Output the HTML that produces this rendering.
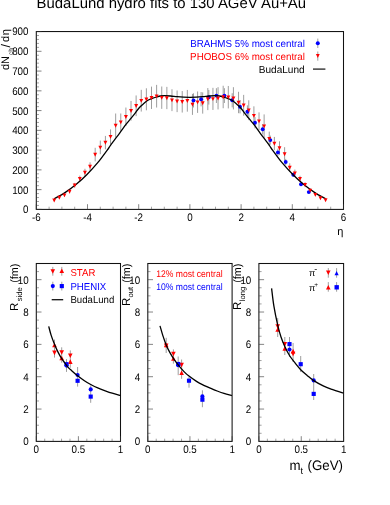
<!DOCTYPE html>
<html><head><meta charset="utf-8"><title>BudaLund hydro fits</title>
<style>
html,body{margin:0;padding:0;background:#fff;}
body{width:390px;height:505px;overflow:hidden;font-family:"Liberation Sans",sans-serif;}
svg{display:block;text-rendering:geometricPrecision;}
</style></head><body>
<svg width="390" height="505" viewBox="0 0 390 505">
<defs><filter id="f" x="0" y="0" width="390" height="505" filterUnits="userSpaceOnUse"><feOffset dx="0" dy="0"/></filter></defs>
<rect x="0" y="0" width="390" height="505" fill="#fff"/>
<g filter="url(#f)">
<rect x="36.3" y="31.55" width="307.2" height="177.85" fill="none" stroke="#111" stroke-width="1.05"/>
<line x1="36.30" y1="209.40" x2="41.50" y2="209.40" stroke="#333" stroke-width="0.6"/>
<line x1="36.30" y1="205.45" x2="39.00" y2="205.45" stroke="#333" stroke-width="0.45"/>
<line x1="36.30" y1="201.50" x2="39.00" y2="201.50" stroke="#333" stroke-width="0.45"/>
<line x1="36.30" y1="197.54" x2="39.00" y2="197.54" stroke="#333" stroke-width="0.45"/>
<line x1="36.30" y1="193.59" x2="39.00" y2="193.59" stroke="#333" stroke-width="0.45"/>
<line x1="36.30" y1="189.64" x2="41.50" y2="189.64" stroke="#333" stroke-width="0.6"/>
<line x1="36.30" y1="185.69" x2="39.00" y2="185.69" stroke="#333" stroke-width="0.45"/>
<line x1="36.30" y1="181.73" x2="39.00" y2="181.73" stroke="#333" stroke-width="0.45"/>
<line x1="36.30" y1="177.78" x2="39.00" y2="177.78" stroke="#333" stroke-width="0.45"/>
<line x1="36.30" y1="173.83" x2="39.00" y2="173.83" stroke="#333" stroke-width="0.45"/>
<line x1="36.30" y1="169.88" x2="41.50" y2="169.88" stroke="#333" stroke-width="0.6"/>
<line x1="36.30" y1="165.93" x2="39.00" y2="165.93" stroke="#333" stroke-width="0.45"/>
<line x1="36.30" y1="161.97" x2="39.00" y2="161.97" stroke="#333" stroke-width="0.45"/>
<line x1="36.30" y1="158.02" x2="39.00" y2="158.02" stroke="#333" stroke-width="0.45"/>
<line x1="36.30" y1="154.07" x2="39.00" y2="154.07" stroke="#333" stroke-width="0.45"/>
<line x1="36.30" y1="150.12" x2="41.50" y2="150.12" stroke="#333" stroke-width="0.6"/>
<line x1="36.30" y1="146.16" x2="39.00" y2="146.16" stroke="#333" stroke-width="0.45"/>
<line x1="36.30" y1="142.21" x2="39.00" y2="142.21" stroke="#333" stroke-width="0.45"/>
<line x1="36.30" y1="138.26" x2="39.00" y2="138.26" stroke="#333" stroke-width="0.45"/>
<line x1="36.30" y1="134.31" x2="39.00" y2="134.31" stroke="#333" stroke-width="0.45"/>
<line x1="36.30" y1="130.36" x2="41.50" y2="130.36" stroke="#333" stroke-width="0.6"/>
<line x1="36.30" y1="126.40" x2="39.00" y2="126.40" stroke="#333" stroke-width="0.45"/>
<line x1="36.30" y1="122.45" x2="39.00" y2="122.45" stroke="#333" stroke-width="0.45"/>
<line x1="36.30" y1="118.50" x2="39.00" y2="118.50" stroke="#333" stroke-width="0.45"/>
<line x1="36.30" y1="114.55" x2="39.00" y2="114.55" stroke="#333" stroke-width="0.45"/>
<line x1="36.30" y1="110.59" x2="41.50" y2="110.59" stroke="#333" stroke-width="0.6"/>
<line x1="36.30" y1="106.64" x2="39.00" y2="106.64" stroke="#333" stroke-width="0.45"/>
<line x1="36.30" y1="102.69" x2="39.00" y2="102.69" stroke="#333" stroke-width="0.45"/>
<line x1="36.30" y1="98.74" x2="39.00" y2="98.74" stroke="#333" stroke-width="0.45"/>
<line x1="36.30" y1="94.79" x2="39.00" y2="94.79" stroke="#333" stroke-width="0.45"/>
<line x1="36.30" y1="90.83" x2="41.50" y2="90.83" stroke="#333" stroke-width="0.6"/>
<line x1="36.30" y1="86.88" x2="39.00" y2="86.88" stroke="#333" stroke-width="0.45"/>
<line x1="36.30" y1="82.93" x2="39.00" y2="82.93" stroke="#333" stroke-width="0.45"/>
<line x1="36.30" y1="78.98" x2="39.00" y2="78.98" stroke="#333" stroke-width="0.45"/>
<line x1="36.30" y1="75.02" x2="39.00" y2="75.02" stroke="#333" stroke-width="0.45"/>
<line x1="36.30" y1="71.07" x2="41.50" y2="71.07" stroke="#333" stroke-width="0.6"/>
<line x1="36.30" y1="67.12" x2="39.00" y2="67.12" stroke="#333" stroke-width="0.45"/>
<line x1="36.30" y1="63.17" x2="39.00" y2="63.17" stroke="#333" stroke-width="0.45"/>
<line x1="36.30" y1="59.22" x2="39.00" y2="59.22" stroke="#333" stroke-width="0.45"/>
<line x1="36.30" y1="55.26" x2="39.00" y2="55.26" stroke="#333" stroke-width="0.45"/>
<line x1="36.30" y1="51.31" x2="41.50" y2="51.31" stroke="#333" stroke-width="0.6"/>
<line x1="36.30" y1="47.36" x2="39.00" y2="47.36" stroke="#333" stroke-width="0.45"/>
<line x1="36.30" y1="43.41" x2="39.00" y2="43.41" stroke="#333" stroke-width="0.45"/>
<line x1="36.30" y1="39.45" x2="39.00" y2="39.45" stroke="#333" stroke-width="0.45"/>
<line x1="36.30" y1="35.50" x2="39.00" y2="35.50" stroke="#333" stroke-width="0.45"/>
<line x1="36.30" y1="31.55" x2="41.50" y2="31.55" stroke="#333" stroke-width="0.6"/>
<line x1="36.30" y1="209.40" x2="36.30" y2="204.20" stroke="#333" stroke-width="0.6"/>
<line x1="49.10" y1="209.40" x2="49.10" y2="206.70" stroke="#333" stroke-width="0.45"/>
<line x1="61.90" y1="209.40" x2="61.90" y2="206.70" stroke="#333" stroke-width="0.45"/>
<line x1="74.70" y1="209.40" x2="74.70" y2="206.70" stroke="#333" stroke-width="0.45"/>
<line x1="87.50" y1="209.40" x2="87.50" y2="204.20" stroke="#333" stroke-width="0.6"/>
<line x1="100.30" y1="209.40" x2="100.30" y2="206.70" stroke="#333" stroke-width="0.45"/>
<line x1="113.10" y1="209.40" x2="113.10" y2="206.70" stroke="#333" stroke-width="0.45"/>
<line x1="125.90" y1="209.40" x2="125.90" y2="206.70" stroke="#333" stroke-width="0.45"/>
<line x1="138.70" y1="209.40" x2="138.70" y2="204.20" stroke="#333" stroke-width="0.6"/>
<line x1="151.50" y1="209.40" x2="151.50" y2="206.70" stroke="#333" stroke-width="0.45"/>
<line x1="164.30" y1="209.40" x2="164.30" y2="206.70" stroke="#333" stroke-width="0.45"/>
<line x1="177.10" y1="209.40" x2="177.10" y2="206.70" stroke="#333" stroke-width="0.45"/>
<line x1="189.90" y1="209.40" x2="189.90" y2="204.20" stroke="#333" stroke-width="0.6"/>
<line x1="202.70" y1="209.40" x2="202.70" y2="206.70" stroke="#333" stroke-width="0.45"/>
<line x1="215.50" y1="209.40" x2="215.50" y2="206.70" stroke="#333" stroke-width="0.45"/>
<line x1="228.30" y1="209.40" x2="228.30" y2="206.70" stroke="#333" stroke-width="0.45"/>
<line x1="241.10" y1="209.40" x2="241.10" y2="204.20" stroke="#333" stroke-width="0.6"/>
<line x1="253.90" y1="209.40" x2="253.90" y2="206.70" stroke="#333" stroke-width="0.45"/>
<line x1="266.70" y1="209.40" x2="266.70" y2="206.70" stroke="#333" stroke-width="0.45"/>
<line x1="279.50" y1="209.40" x2="279.50" y2="206.70" stroke="#333" stroke-width="0.45"/>
<line x1="292.30" y1="209.40" x2="292.30" y2="204.20" stroke="#333" stroke-width="0.6"/>
<line x1="305.10" y1="209.40" x2="305.10" y2="206.70" stroke="#333" stroke-width="0.45"/>
<line x1="317.90" y1="209.40" x2="317.90" y2="206.70" stroke="#333" stroke-width="0.45"/>
<line x1="330.70" y1="209.40" x2="330.70" y2="206.70" stroke="#333" stroke-width="0.45"/>
<line x1="343.50" y1="209.40" x2="343.50" y2="204.20" stroke="#333" stroke-width="0.6"/>
<text transform="translate(28.50,213.33) scale(1,1.12)" text-anchor="end" font-size="9.8" font-family="Liberation Sans, sans-serif" fill="#000">0</text>
<text transform="translate(28.50,193.57) scale(1,1.12)" text-anchor="end" font-size="9.8" font-family="Liberation Sans, sans-serif" fill="#000">100</text>
<text transform="translate(28.50,173.81) scale(1,1.12)" text-anchor="end" font-size="9.8" font-family="Liberation Sans, sans-serif" fill="#000">200</text>
<text transform="translate(28.50,154.05) scale(1,1.12)" text-anchor="end" font-size="9.8" font-family="Liberation Sans, sans-serif" fill="#000">300</text>
<text transform="translate(28.50,134.28) scale(1,1.12)" text-anchor="end" font-size="9.8" font-family="Liberation Sans, sans-serif" fill="#000">400</text>
<text transform="translate(28.50,114.52) scale(1,1.12)" text-anchor="end" font-size="9.8" font-family="Liberation Sans, sans-serif" fill="#000">500</text>
<text transform="translate(28.50,94.76) scale(1,1.12)" text-anchor="end" font-size="9.8" font-family="Liberation Sans, sans-serif" fill="#000">600</text>
<text transform="translate(28.50,75.00) scale(1,1.12)" text-anchor="end" font-size="9.8" font-family="Liberation Sans, sans-serif" fill="#000">700</text>
<text transform="translate(28.50,55.24) scale(1,1.12)" text-anchor="end" font-size="9.8" font-family="Liberation Sans, sans-serif" fill="#000">800</text>
<text transform="translate(28.50,35.48) scale(1,1.12)" text-anchor="end" font-size="9.8" font-family="Liberation Sans, sans-serif" fill="#000">900</text>
<text transform="translate(36.30,220.70) scale(1,1.12)" text-anchor="middle" font-size="9.8" font-family="Liberation Sans, sans-serif" fill="#000">-6</text>
<text transform="translate(87.50,220.70) scale(1,1.12)" text-anchor="middle" font-size="9.8" font-family="Liberation Sans, sans-serif" fill="#000">-4</text>
<text transform="translate(138.70,220.70) scale(1,1.12)" text-anchor="middle" font-size="9.8" font-family="Liberation Sans, sans-serif" fill="#000">-2</text>
<text transform="translate(189.90,220.70) scale(1,1.12)" text-anchor="middle" font-size="9.8" font-family="Liberation Sans, sans-serif" fill="#000">0</text>
<text transform="translate(241.10,220.70) scale(1,1.12)" text-anchor="middle" font-size="9.8" font-family="Liberation Sans, sans-serif" fill="#000">2</text>
<text transform="translate(292.30,220.70) scale(1,1.12)" text-anchor="middle" font-size="9.8" font-family="Liberation Sans, sans-serif" fill="#000">4</text>
<text transform="translate(343.50,220.70) scale(1,1.12)" text-anchor="middle" font-size="9.8" font-family="Liberation Sans, sans-serif" fill="#000">6</text>
<text transform="translate(337.20,235.20) scale(1,1.0)" text-anchor="start" font-size="11" font-family="Liberation Sans, sans-serif" fill="#000">η</text>
<text transform="translate(36.60,7.80) scale(1,1.0)" text-anchor="start" font-size="14.9" font-family="Liberation Sans, sans-serif" fill="#000">BudaLund hydro fits to 130 AGeV Au+Au</text>
<text transform="translate(9.40,70.00) rotate(-90) scale(1,1)" text-anchor="start" font-size="11" font-family="Liberation Sans, sans-serif" fill="#000">dN</text>
<text transform="translate(12.90,54.90) rotate(-90) scale(1,1)" text-anchor="start" font-size="6.5" font-family="Liberation Sans, sans-serif" fill="#000">ch</text>
<text transform="translate(9.90,47.50) rotate(-90) scale(1,1)" text-anchor="start" font-size="12.5" font-family="Liberation Sans, sans-serif" fill="#000">/</text>
<text transform="translate(9.40,42.10) rotate(-90) scale(1,1)" text-anchor="start" font-size="11" font-family="Liberation Sans, sans-serif" fill="#000">d</text>
<text transform="translate(9.40,35.20) rotate(-90) scale(1,1)" text-anchor="start" font-size="11" font-family="Liberation Sans, sans-serif" fill="#000">η</text>
<line x1="54.22" y1="199.39" x2="54.22" y2="201.21" stroke="#8c8c8c" stroke-width="0.85"/>
<line x1="59.34" y1="196.42" x2="59.34" y2="198.78" stroke="#8c8c8c" stroke-width="0.85"/>
<line x1="64.46" y1="193.78" x2="64.46" y2="196.62" stroke="#8c8c8c" stroke-width="0.85"/>
<line x1="69.58" y1="189.71" x2="69.58" y2="193.29" stroke="#8c8c8c" stroke-width="0.85"/>
<line x1="74.70" y1="182.89" x2="74.70" y2="187.71" stroke="#8c8c8c" stroke-width="0.85"/>
<line x1="79.82" y1="175.63" x2="79.82" y2="181.77" stroke="#8c8c8c" stroke-width="0.85"/>
<line x1="84.94" y1="168.81" x2="84.94" y2="176.19" stroke="#8c8c8c" stroke-width="0.85"/>
<line x1="90.06" y1="162.32" x2="90.06" y2="170.88" stroke="#8c8c8c" stroke-width="0.85"/>
<line x1="95.18" y1="147.80" x2="95.18" y2="161.40" stroke="#8c8c8c" stroke-width="0.85"/>
<line x1="100.30" y1="140.60" x2="100.30" y2="154.20" stroke="#8c8c8c" stroke-width="0.85"/>
<line x1="105.42" y1="135.92" x2="105.42" y2="149.28" stroke="#8c8c8c" stroke-width="0.85"/>
<line x1="110.54" y1="129.43" x2="110.54" y2="143.97" stroke="#8c8c8c" stroke-width="0.85"/>
<line x1="115.66" y1="113.50" x2="115.66" y2="137.50" stroke="#8c8c8c" stroke-width="0.85"/>
<line x1="120.78" y1="113.48" x2="120.78" y2="130.92" stroke="#8c8c8c" stroke-width="0.85"/>
<line x1="125.90" y1="107.54" x2="125.90" y2="126.06" stroke="#8c8c8c" stroke-width="0.85"/>
<line x1="131.02" y1="100.94" x2="131.02" y2="120.66" stroke="#8c8c8c" stroke-width="0.85"/>
<line x1="136.14" y1="95.44" x2="136.14" y2="116.16" stroke="#8c8c8c" stroke-width="0.85"/>
<line x1="141.26" y1="89.83" x2="141.26" y2="111.57" stroke="#8c8c8c" stroke-width="0.85"/>
<line x1="146.38" y1="88.29" x2="146.38" y2="110.31" stroke="#8c8c8c" stroke-width="0.85"/>
<line x1="151.50" y1="86.64" x2="151.50" y2="108.96" stroke="#8c8c8c" stroke-width="0.85"/>
<line x1="156.62" y1="84.88" x2="156.62" y2="107.52" stroke="#8c8c8c" stroke-width="0.85"/>
<line x1="161.74" y1="86.53" x2="161.74" y2="108.87" stroke="#8c8c8c" stroke-width="0.85"/>
<line x1="166.86" y1="86.86" x2="166.86" y2="109.14" stroke="#8c8c8c" stroke-width="0.85"/>
<line x1="171.98" y1="89.28" x2="171.98" y2="111.12" stroke="#8c8c8c" stroke-width="0.85"/>
<line x1="177.10" y1="90.49" x2="177.10" y2="112.11" stroke="#8c8c8c" stroke-width="0.85"/>
<line x1="182.22" y1="91.04" x2="182.22" y2="112.56" stroke="#8c8c8c" stroke-width="0.85"/>
<line x1="187.34" y1="89.94" x2="187.34" y2="111.66" stroke="#8c8c8c" stroke-width="0.85"/>
<line x1="192.46" y1="93.90" x2="192.46" y2="114.90" stroke="#8c8c8c" stroke-width="0.85"/>
<line x1="197.58" y1="91.48" x2="197.58" y2="112.92" stroke="#8c8c8c" stroke-width="0.85"/>
<line x1="202.70" y1="92.36" x2="202.70" y2="113.64" stroke="#8c8c8c" stroke-width="0.85"/>
<line x1="207.82" y1="88.07" x2="207.82" y2="110.13" stroke="#8c8c8c" stroke-width="0.85"/>
<line x1="212.94" y1="87.85" x2="212.94" y2="109.95" stroke="#8c8c8c" stroke-width="0.85"/>
<line x1="218.06" y1="87.19" x2="218.06" y2="109.41" stroke="#8c8c8c" stroke-width="0.85"/>
<line x1="223.18" y1="85.76" x2="223.18" y2="108.24" stroke="#8c8c8c" stroke-width="0.85"/>
<line x1="228.30" y1="85.98" x2="228.30" y2="108.42" stroke="#8c8c8c" stroke-width="0.85"/>
<line x1="233.42" y1="87.19" x2="233.42" y2="109.41" stroke="#8c8c8c" stroke-width="0.85"/>
<line x1="238.54" y1="91.81" x2="238.54" y2="113.19" stroke="#8c8c8c" stroke-width="0.85"/>
<line x1="243.66" y1="94.89" x2="243.66" y2="115.71" stroke="#8c8c8c" stroke-width="0.85"/>
<line x1="248.78" y1="100.28" x2="248.78" y2="120.12" stroke="#8c8c8c" stroke-width="0.85"/>
<line x1="253.90" y1="106.33" x2="253.90" y2="125.07" stroke="#8c8c8c" stroke-width="0.85"/>
<line x1="259.02" y1="112.38" x2="259.02" y2="130.02" stroke="#8c8c8c" stroke-width="0.85"/>
<line x1="264.14" y1="114.40" x2="264.14" y2="138.00" stroke="#8c8c8c" stroke-width="0.85"/>
<line x1="269.26" y1="131.63" x2="269.26" y2="145.77" stroke="#8c8c8c" stroke-width="0.85"/>
<line x1="274.38" y1="136.91" x2="274.38" y2="150.09" stroke="#8c8c8c" stroke-width="0.85"/>
<line x1="279.50" y1="141.30" x2="279.50" y2="154.90" stroke="#8c8c8c" stroke-width="0.85"/>
<line x1="284.62" y1="147.20" x2="284.62" y2="160.80" stroke="#8c8c8c" stroke-width="0.85"/>
<line x1="289.74" y1="163.31" x2="289.74" y2="171.69" stroke="#8c8c8c" stroke-width="0.85"/>
<line x1="294.86" y1="169.58" x2="294.86" y2="176.82" stroke="#8c8c8c" stroke-width="0.85"/>
<line x1="299.98" y1="175.74" x2="299.98" y2="181.86" stroke="#8c8c8c" stroke-width="0.85"/>
<line x1="305.10" y1="182.23" x2="305.10" y2="187.17" stroke="#8c8c8c" stroke-width="0.85"/>
<line x1="310.22" y1="188.50" x2="310.22" y2="192.30" stroke="#8c8c8c" stroke-width="0.85"/>
<line x1="315.34" y1="193.23" x2="315.34" y2="196.17" stroke="#8c8c8c" stroke-width="0.85"/>
<line x1="320.46" y1="196.86" x2="320.46" y2="199.14" stroke="#8c8c8c" stroke-width="0.85"/>
<line x1="325.58" y1="199.06" x2="325.58" y2="200.94" stroke="#8c8c8c" stroke-width="0.85"/>
<line x1="193.50" y1="93.32" x2="193.50" y2="107.48" stroke="#8c8c8c" stroke-width="0.85"/>
<line x1="201.10" y1="92.04" x2="201.10" y2="106.36" stroke="#8c8c8c" stroke-width="0.85"/>
<line x1="208.80" y1="90.01" x2="208.80" y2="104.59" stroke="#8c8c8c" stroke-width="0.85"/>
<line x1="216.40" y1="88.20" x2="216.40" y2="103.00" stroke="#8c8c8c" stroke-width="0.85"/>
<line x1="224.40" y1="88.20" x2="224.40" y2="103.00" stroke="#8c8c8c" stroke-width="0.85"/>
<line x1="232.20" y1="93.21" x2="232.20" y2="107.39" stroke="#8c8c8c" stroke-width="0.85"/>
<line x1="240.00" y1="100.02" x2="240.00" y2="113.38" stroke="#8c8c8c" stroke-width="0.85"/>
<line x1="247.40" y1="105.35" x2="247.40" y2="118.05" stroke="#8c8c8c" stroke-width="0.85"/>
<line x1="255.00" y1="117.06" x2="255.00" y2="128.34" stroke="#8c8c8c" stroke-width="0.85"/>
<line x1="262.70" y1="124.09" x2="262.70" y2="134.51" stroke="#8c8c8c" stroke-width="0.85"/>
<line x1="270.30" y1="135.60" x2="270.30" y2="144.60" stroke="#8c8c8c" stroke-width="0.85"/>
<line x1="277.90" y1="148.69" x2="277.90" y2="156.11" stroke="#8c8c8c" stroke-width="0.85"/>
<line x1="285.70" y1="158.92" x2="285.70" y2="165.08" stroke="#8c8c8c" stroke-width="0.85"/>
<line x1="293.30" y1="172.44" x2="293.30" y2="176.96" stroke="#8c8c8c" stroke-width="0.85"/>
<line x1="301.00" y1="182.67" x2="301.00" y2="185.93" stroke="#8c8c8c" stroke-width="0.85"/>
<line x1="308.80" y1="190.98" x2="308.80" y2="193.22" stroke="#8c8c8c" stroke-width="0.85"/>
<circle cx="193.50" cy="100.40" r="1.95" fill="#0000ff"/>
<circle cx="201.10" cy="99.20" r="1.95" fill="#0000ff"/>
<circle cx="208.80" cy="97.30" r="1.95" fill="#0000ff"/>
<circle cx="216.40" cy="95.60" r="1.95" fill="#0000ff"/>
<circle cx="224.40" cy="95.60" r="1.95" fill="#0000ff"/>
<circle cx="232.20" cy="100.30" r="1.95" fill="#0000ff"/>
<circle cx="240.00" cy="106.70" r="1.95" fill="#0000ff"/>
<circle cx="247.40" cy="111.70" r="1.95" fill="#0000ff"/>
<circle cx="255.00" cy="122.70" r="1.95" fill="#0000ff"/>
<circle cx="262.70" cy="129.30" r="1.95" fill="#0000ff"/>
<circle cx="270.30" cy="140.10" r="1.95" fill="#0000ff"/>
<circle cx="277.90" cy="152.40" r="1.95" fill="#0000ff"/>
<circle cx="285.70" cy="162.00" r="1.95" fill="#0000ff"/>
<circle cx="293.30" cy="174.70" r="1.95" fill="#0000ff"/>
<circle cx="301.00" cy="184.30" r="1.95" fill="#0000ff"/>
<circle cx="308.80" cy="192.10" r="1.95" fill="#0000ff"/>
<path d="M54.22 198.80C56.01 197.77 61.35 194.98 64.97 192.60C68.60 190.22 72.35 187.48 75.98 184.50C79.61 181.52 83.11 178.33 86.73 174.70C90.36 171.07 94.07 167.15 97.74 162.70C101.41 158.25 106.49 151.08 108.75 148.00C111.01 144.92 109.52 146.65 111.31 144.20C113.10 141.75 117.03 136.63 119.50 133.30C121.97 129.97 124.36 126.55 126.16 124.20C127.95 121.85 128.84 120.93 130.25 119.20C131.66 117.47 133.07 115.75 134.60 113.80C136.14 111.85 137.93 109.22 139.47 107.50C141.00 105.78 142.41 104.70 143.82 103.50C145.23 102.30 146.51 101.15 147.92 100.30C149.32 99.45 150.82 98.95 152.27 98.40C153.72 97.85 155.25 97.40 156.62 97.00C157.99 96.60 159.18 96.23 160.46 96.00C161.74 95.77 162.59 95.60 164.30 95.60C166.01 95.60 168.57 95.82 170.70 96.00C172.83 96.18 174.97 96.51 177.10 96.70C179.23 96.89 181.37 97.05 183.50 97.15C185.63 97.25 187.77 97.30 189.90 97.30C192.03 97.30 194.17 97.25 196.30 97.15C198.43 97.05 200.57 96.89 202.70 96.70C204.83 96.51 206.97 96.18 209.10 96.00C211.23 95.82 213.79 95.60 215.50 95.60C217.21 95.60 218.06 95.77 219.34 96.00C220.62 96.23 221.81 96.60 223.18 97.00C224.55 97.40 226.08 97.85 227.53 98.40C228.98 98.95 230.48 99.45 231.88 100.30C233.29 101.15 234.57 102.30 235.98 103.50C237.39 104.70 238.80 105.78 240.33 107.50C241.87 109.22 243.66 111.85 245.20 113.80C246.73 115.75 248.14 117.47 249.55 119.20C250.96 120.93 251.85 121.85 253.64 124.20C255.44 126.55 257.83 129.97 260.30 133.30C262.77 136.63 266.70 141.75 268.49 144.20C270.28 146.65 268.79 144.92 271.05 148.00C273.31 151.08 278.39 158.25 282.06 162.70C285.73 167.15 289.44 171.07 293.07 174.70C296.69 178.33 300.19 181.52 303.82 184.50C307.45 187.48 311.20 190.22 314.83 192.60C318.45 194.98 323.79 197.77 325.58 198.80" fill="none" stroke="#000" stroke-width="1.3"/>
<path d="M52.27 198.55L56.17 198.55L54.22 202.45Z" fill="#ff0000"/>
<path d="M57.39 195.84L61.29 195.84L59.34 199.75Z" fill="#ff0000"/>
<path d="M62.51 193.44L66.41 193.44L64.46 197.34Z" fill="#ff0000"/>
<path d="M67.63 189.75L71.53 189.75L69.58 193.65Z" fill="#ff0000"/>
<path d="M72.75 183.55L76.65 183.55L74.70 187.45Z" fill="#ff0000"/>
<path d="M77.87 176.94L81.77 176.94L79.82 180.84Z" fill="#ff0000"/>
<path d="M82.99 170.75L86.89 170.75L84.94 174.65Z" fill="#ff0000"/>
<path d="M88.11 164.84L92.01 164.84L90.06 168.75Z" fill="#ff0000"/>
<path d="M93.23 152.84L97.13 152.84L95.18 156.75Z" fill="#ff0000"/>
<path d="M98.35 145.65L102.25 145.65L100.30 149.55Z" fill="#ff0000"/>
<path d="M103.47 140.84L107.37 140.84L105.42 144.75Z" fill="#ff0000"/>
<path d="M108.59 134.94L112.49 134.94L110.54 138.84Z" fill="#ff0000"/>
<path d="M113.71 123.75L117.61 123.75L115.66 127.64Z" fill="#ff0000"/>
<path d="M118.83 120.45L122.73 120.45L120.78 124.34Z" fill="#ff0000"/>
<path d="M123.95 115.05L127.85 115.05L125.90 118.94Z" fill="#ff0000"/>
<path d="M129.07 109.05L132.97 109.05L131.02 112.94Z" fill="#ff0000"/>
<path d="M134.19 104.05L138.09 104.05L136.14 107.94Z" fill="#ff0000"/>
<path d="M139.31 98.95L143.21 98.95L141.26 102.84Z" fill="#ff0000"/>
<path d="M144.43 97.55L148.33 97.55L146.38 101.44Z" fill="#ff0000"/>
<path d="M149.55 96.05L153.45 96.05L151.50 99.94Z" fill="#ff0000"/>
<path d="M154.67 94.45L158.57 94.45L156.62 98.34Z" fill="#ff0000"/>
<path d="M159.79 95.95L163.69 95.95L161.74 99.84Z" fill="#ff0000"/>
<path d="M164.91 96.25L168.81 96.25L166.86 100.14Z" fill="#ff0000"/>
<path d="M170.03 98.45L173.93 98.45L171.98 102.34Z" fill="#ff0000"/>
<path d="M175.15 99.55L179.05 99.55L177.10 103.44Z" fill="#ff0000"/>
<path d="M180.27 100.05L184.17 100.05L182.22 103.94Z" fill="#ff0000"/>
<path d="M185.39 99.05L189.29 99.05L187.34 102.94Z" fill="#ff0000"/>
<path d="M190.51 102.65L194.41 102.65L192.46 106.55Z" fill="#ff0000"/>
<path d="M195.63 100.45L199.53 100.45L197.58 104.34Z" fill="#ff0000"/>
<path d="M200.75 101.25L204.65 101.25L202.70 105.14Z" fill="#ff0000"/>
<path d="M205.87 97.34L209.77 97.34L207.82 101.24Z" fill="#ff0000"/>
<path d="M210.99 97.15L214.89 97.15L212.94 101.05Z" fill="#ff0000"/>
<path d="M216.11 96.55L220.01 96.55L218.06 100.44Z" fill="#ff0000"/>
<path d="M221.23 95.25L225.13 95.25L223.18 99.14Z" fill="#ff0000"/>
<path d="M226.35 95.45L230.25 95.45L228.30 99.34Z" fill="#ff0000"/>
<path d="M231.47 96.55L235.37 96.55L233.42 100.44Z" fill="#ff0000"/>
<path d="M236.59 100.75L240.49 100.75L238.54 104.64Z" fill="#ff0000"/>
<path d="M241.71 103.55L245.61 103.55L243.66 107.44Z" fill="#ff0000"/>
<path d="M246.83 108.45L250.73 108.45L248.78 112.34Z" fill="#ff0000"/>
<path d="M251.95 113.95L255.85 113.95L253.90 117.84Z" fill="#ff0000"/>
<path d="M257.07 119.45L260.97 119.45L259.02 123.34Z" fill="#ff0000"/>
<path d="M262.19 124.45L266.09 124.45L264.14 128.34Z" fill="#ff0000"/>
<path d="M267.31 136.94L271.21 136.94L269.26 140.84Z" fill="#ff0000"/>
<path d="M272.43 141.75L276.33 141.75L274.38 145.65Z" fill="#ff0000"/>
<path d="M277.55 146.34L281.45 146.34L279.50 150.25Z" fill="#ff0000"/>
<path d="M282.67 152.25L286.57 152.25L284.62 156.15Z" fill="#ff0000"/>
<path d="M287.79 165.75L291.69 165.75L289.74 169.65Z" fill="#ff0000"/>
<path d="M292.91 171.44L296.81 171.44L294.86 175.34Z" fill="#ff0000"/>
<path d="M298.03 177.05L301.93 177.05L299.98 180.95Z" fill="#ff0000"/>
<path d="M303.15 182.94L307.05 182.94L305.10 186.84Z" fill="#ff0000"/>
<path d="M308.27 188.65L312.17 188.65L310.22 192.55Z" fill="#ff0000"/>
<path d="M313.39 192.94L317.29 192.94L315.34 196.84Z" fill="#ff0000"/>
<path d="M318.51 196.25L322.41 196.25L320.46 200.15Z" fill="#ff0000"/>
<path d="M323.63 198.25L327.53 198.25L325.58 202.15Z" fill="#ff0000"/>
<text transform="translate(305.00,47.20) scale(1,1.04)" text-anchor="end" font-size="9.8" font-family="Liberation Sans, sans-serif" fill="#0000ff">BRAHMS 5% most central</text>
<text transform="translate(305.00,60.20) scale(1,1.04)" text-anchor="end" font-size="9.8" font-family="Liberation Sans, sans-serif" fill="#ff0000">PHOBOS 6% most central</text>
<text transform="translate(304.60,72.70) scale(1,1.02)" text-anchor="end" font-size="10.05" font-family="Liberation Sans, sans-serif" fill="#000">BudaLund</text>
<line x1="317.80" y1="38.60" x2="317.80" y2="48.00" stroke="#8c8c8c" stroke-width="0.85"/>
<circle cx="317.80" cy="43.30" r="2.00" fill="#0000ff"/>
<line x1="317.80" y1="51.50" x2="317.80" y2="60.70" stroke="#8c8c8c" stroke-width="0.85"/>
<path d="M315.90 54.09L319.70 54.09L317.80 57.89Z" fill="#ff0000"/>
<line x1="313" y1="69.1" x2="325.4" y2="69.1" stroke="#222" stroke-width="1.3"/>
<rect x="36.3" y="263.5" width="84.2" height="177.89999999999998" fill="none" stroke="#111" stroke-width="1.05"/>
<line x1="36.30" y1="441.40" x2="41.50" y2="441.40" stroke="#333" stroke-width="0.6"/>
<line x1="36.30" y1="433.31" x2="39.00" y2="433.31" stroke="#333" stroke-width="0.45"/>
<line x1="36.30" y1="425.23" x2="39.00" y2="425.23" stroke="#333" stroke-width="0.45"/>
<line x1="36.30" y1="417.14" x2="39.00" y2="417.14" stroke="#333" stroke-width="0.45"/>
<line x1="36.30" y1="409.05" x2="41.50" y2="409.05" stroke="#333" stroke-width="0.6"/>
<line x1="36.30" y1="400.97" x2="39.00" y2="400.97" stroke="#333" stroke-width="0.45"/>
<line x1="36.30" y1="392.88" x2="39.00" y2="392.88" stroke="#333" stroke-width="0.45"/>
<line x1="36.30" y1="384.80" x2="39.00" y2="384.80" stroke="#333" stroke-width="0.45"/>
<line x1="36.30" y1="376.71" x2="41.50" y2="376.71" stroke="#333" stroke-width="0.6"/>
<line x1="36.30" y1="368.62" x2="39.00" y2="368.62" stroke="#333" stroke-width="0.45"/>
<line x1="36.30" y1="360.54" x2="39.00" y2="360.54" stroke="#333" stroke-width="0.45"/>
<line x1="36.30" y1="352.45" x2="39.00" y2="352.45" stroke="#333" stroke-width="0.45"/>
<line x1="36.30" y1="344.36" x2="41.50" y2="344.36" stroke="#333" stroke-width="0.6"/>
<line x1="36.30" y1="336.28" x2="39.00" y2="336.28" stroke="#333" stroke-width="0.45"/>
<line x1="36.30" y1="328.19" x2="39.00" y2="328.19" stroke="#333" stroke-width="0.45"/>
<line x1="36.30" y1="320.10" x2="39.00" y2="320.10" stroke="#333" stroke-width="0.45"/>
<line x1="36.30" y1="312.02" x2="41.50" y2="312.02" stroke="#333" stroke-width="0.6"/>
<line x1="36.30" y1="303.93" x2="39.00" y2="303.93" stroke="#333" stroke-width="0.45"/>
<line x1="36.30" y1="295.85" x2="39.00" y2="295.85" stroke="#333" stroke-width="0.45"/>
<line x1="36.30" y1="287.76" x2="39.00" y2="287.76" stroke="#333" stroke-width="0.45"/>
<line x1="36.30" y1="279.67" x2="41.50" y2="279.67" stroke="#333" stroke-width="0.6"/>
<line x1="36.30" y1="271.59" x2="39.00" y2="271.59" stroke="#333" stroke-width="0.45"/>
<line x1="36.30" y1="441.40" x2="36.30" y2="436.20" stroke="#333" stroke-width="0.6"/>
<line x1="44.72" y1="441.40" x2="44.72" y2="438.70" stroke="#333" stroke-width="0.45"/>
<line x1="53.14" y1="441.40" x2="53.14" y2="438.70" stroke="#333" stroke-width="0.45"/>
<line x1="61.56" y1="441.40" x2="61.56" y2="438.70" stroke="#333" stroke-width="0.45"/>
<line x1="69.98" y1="441.40" x2="69.98" y2="438.70" stroke="#333" stroke-width="0.45"/>
<line x1="78.40" y1="441.40" x2="78.40" y2="436.20" stroke="#333" stroke-width="0.6"/>
<line x1="86.82" y1="441.40" x2="86.82" y2="438.70" stroke="#333" stroke-width="0.45"/>
<line x1="95.24" y1="441.40" x2="95.24" y2="438.70" stroke="#333" stroke-width="0.45"/>
<line x1="103.66" y1="441.40" x2="103.66" y2="438.70" stroke="#333" stroke-width="0.45"/>
<line x1="112.08" y1="441.40" x2="112.08" y2="438.70" stroke="#333" stroke-width="0.45"/>
<line x1="120.50" y1="441.40" x2="120.50" y2="436.20" stroke="#333" stroke-width="0.6"/>
<text transform="translate(28.70,445.33) scale(1,1.12)" text-anchor="end" font-size="9.8" font-family="Liberation Sans, sans-serif" fill="#000">0</text>
<text transform="translate(28.70,412.98) scale(1,1.12)" text-anchor="end" font-size="9.8" font-family="Liberation Sans, sans-serif" fill="#000">2</text>
<text transform="translate(28.70,380.64) scale(1,1.12)" text-anchor="end" font-size="9.8" font-family="Liberation Sans, sans-serif" fill="#000">4</text>
<text transform="translate(28.70,348.29) scale(1,1.12)" text-anchor="end" font-size="9.8" font-family="Liberation Sans, sans-serif" fill="#000">6</text>
<text transform="translate(28.70,315.95) scale(1,1.12)" text-anchor="end" font-size="9.8" font-family="Liberation Sans, sans-serif" fill="#000">8</text>
<text transform="translate(28.70,283.60) scale(1,1.12)" text-anchor="end" font-size="9.8" font-family="Liberation Sans, sans-serif" fill="#000">10</text>
<text transform="translate(36.30,452.90) scale(1,1.12)" text-anchor="middle" font-size="9.8" font-family="Liberation Sans, sans-serif" fill="#000">0</text>
<text transform="translate(78.40,452.90) scale(1,1.12)" text-anchor="middle" font-size="9.8" font-family="Liberation Sans, sans-serif" fill="#000">0.5</text>
<text transform="translate(120.50,452.90) scale(1,1.12)" text-anchor="middle" font-size="9.8" font-family="Liberation Sans, sans-serif" fill="#000">1</text>
<text transform="translate(18.00,311.00) rotate(-90) scale(1,1)" text-anchor="start" font-size="11.5" font-family="Liberation Sans, sans-serif" fill="#000">R</text>
<text transform="translate(21.90,301.30) rotate(-90) scale(1,1)" text-anchor="start" font-size="7.7" font-family="Liberation Sans, sans-serif" fill="#000">side</text>
<text transform="translate(18.00,282.80) rotate(-90) scale(1,1)" text-anchor="start" font-size="10.8" font-family="Liberation Sans, sans-serif" fill="#000">(fm)</text>
<rect x="147.8" y="263.5" width="84.29999999999998" height="177.89999999999998" fill="none" stroke="#111" stroke-width="1.05"/>
<line x1="147.80" y1="441.40" x2="153.00" y2="441.40" stroke="#333" stroke-width="0.6"/>
<line x1="147.80" y1="433.31" x2="150.50" y2="433.31" stroke="#333" stroke-width="0.45"/>
<line x1="147.80" y1="425.23" x2="150.50" y2="425.23" stroke="#333" stroke-width="0.45"/>
<line x1="147.80" y1="417.14" x2="150.50" y2="417.14" stroke="#333" stroke-width="0.45"/>
<line x1="147.80" y1="409.05" x2="153.00" y2="409.05" stroke="#333" stroke-width="0.6"/>
<line x1="147.80" y1="400.97" x2="150.50" y2="400.97" stroke="#333" stroke-width="0.45"/>
<line x1="147.80" y1="392.88" x2="150.50" y2="392.88" stroke="#333" stroke-width="0.45"/>
<line x1="147.80" y1="384.80" x2="150.50" y2="384.80" stroke="#333" stroke-width="0.45"/>
<line x1="147.80" y1="376.71" x2="153.00" y2="376.71" stroke="#333" stroke-width="0.6"/>
<line x1="147.80" y1="368.62" x2="150.50" y2="368.62" stroke="#333" stroke-width="0.45"/>
<line x1="147.80" y1="360.54" x2="150.50" y2="360.54" stroke="#333" stroke-width="0.45"/>
<line x1="147.80" y1="352.45" x2="150.50" y2="352.45" stroke="#333" stroke-width="0.45"/>
<line x1="147.80" y1="344.36" x2="153.00" y2="344.36" stroke="#333" stroke-width="0.6"/>
<line x1="147.80" y1="336.28" x2="150.50" y2="336.28" stroke="#333" stroke-width="0.45"/>
<line x1="147.80" y1="328.19" x2="150.50" y2="328.19" stroke="#333" stroke-width="0.45"/>
<line x1="147.80" y1="320.10" x2="150.50" y2="320.10" stroke="#333" stroke-width="0.45"/>
<line x1="147.80" y1="312.02" x2="153.00" y2="312.02" stroke="#333" stroke-width="0.6"/>
<line x1="147.80" y1="303.93" x2="150.50" y2="303.93" stroke="#333" stroke-width="0.45"/>
<line x1="147.80" y1="295.85" x2="150.50" y2="295.85" stroke="#333" stroke-width="0.45"/>
<line x1="147.80" y1="287.76" x2="150.50" y2="287.76" stroke="#333" stroke-width="0.45"/>
<line x1="147.80" y1="279.67" x2="153.00" y2="279.67" stroke="#333" stroke-width="0.6"/>
<line x1="147.80" y1="271.59" x2="150.50" y2="271.59" stroke="#333" stroke-width="0.45"/>
<line x1="147.80" y1="441.40" x2="147.80" y2="436.20" stroke="#333" stroke-width="0.6"/>
<line x1="156.23" y1="441.40" x2="156.23" y2="438.70" stroke="#333" stroke-width="0.45"/>
<line x1="164.66" y1="441.40" x2="164.66" y2="438.70" stroke="#333" stroke-width="0.45"/>
<line x1="173.09" y1="441.40" x2="173.09" y2="438.70" stroke="#333" stroke-width="0.45"/>
<line x1="181.52" y1="441.40" x2="181.52" y2="438.70" stroke="#333" stroke-width="0.45"/>
<line x1="189.95" y1="441.40" x2="189.95" y2="436.20" stroke="#333" stroke-width="0.6"/>
<line x1="198.38" y1="441.40" x2="198.38" y2="438.70" stroke="#333" stroke-width="0.45"/>
<line x1="206.81" y1="441.40" x2="206.81" y2="438.70" stroke="#333" stroke-width="0.45"/>
<line x1="215.24" y1="441.40" x2="215.24" y2="438.70" stroke="#333" stroke-width="0.45"/>
<line x1="223.67" y1="441.40" x2="223.67" y2="438.70" stroke="#333" stroke-width="0.45"/>
<line x1="232.10" y1="441.40" x2="232.10" y2="436.20" stroke="#333" stroke-width="0.6"/>
<text transform="translate(140.20,445.33) scale(1,1.12)" text-anchor="end" font-size="9.8" font-family="Liberation Sans, sans-serif" fill="#000">0</text>
<text transform="translate(140.20,412.98) scale(1,1.12)" text-anchor="end" font-size="9.8" font-family="Liberation Sans, sans-serif" fill="#000">2</text>
<text transform="translate(140.20,380.64) scale(1,1.12)" text-anchor="end" font-size="9.8" font-family="Liberation Sans, sans-serif" fill="#000">4</text>
<text transform="translate(140.20,348.29) scale(1,1.12)" text-anchor="end" font-size="9.8" font-family="Liberation Sans, sans-serif" fill="#000">6</text>
<text transform="translate(140.20,315.95) scale(1,1.12)" text-anchor="end" font-size="9.8" font-family="Liberation Sans, sans-serif" fill="#000">8</text>
<text transform="translate(140.20,283.60) scale(1,1.12)" text-anchor="end" font-size="9.8" font-family="Liberation Sans, sans-serif" fill="#000">10</text>
<text transform="translate(147.80,452.90) scale(1,1.12)" text-anchor="middle" font-size="9.8" font-family="Liberation Sans, sans-serif" fill="#000">0</text>
<text transform="translate(189.95,452.90) scale(1,1.12)" text-anchor="middle" font-size="9.8" font-family="Liberation Sans, sans-serif" fill="#000">0.5</text>
<text transform="translate(232.10,452.90) scale(1,1.12)" text-anchor="middle" font-size="9.8" font-family="Liberation Sans, sans-serif" fill="#000">1</text>
<text transform="translate(129.50,306.00) rotate(-90) scale(1,1)" text-anchor="start" font-size="11.5" font-family="Liberation Sans, sans-serif" fill="#000">R</text>
<text transform="translate(133.40,297.50) rotate(-90) scale(1,1)" text-anchor="start" font-size="7.7" font-family="Liberation Sans, sans-serif" fill="#000">out</text>
<text transform="translate(129.50,282.80) rotate(-90) scale(1,1)" text-anchor="start" font-size="10.8" font-family="Liberation Sans, sans-serif" fill="#000">(fm)</text>
<rect x="258.9" y="263.5" width="84.70000000000005" height="177.89999999999998" fill="none" stroke="#111" stroke-width="1.05"/>
<line x1="258.90" y1="441.40" x2="264.10" y2="441.40" stroke="#333" stroke-width="0.6"/>
<line x1="258.90" y1="433.31" x2="261.60" y2="433.31" stroke="#333" stroke-width="0.45"/>
<line x1="258.90" y1="425.23" x2="261.60" y2="425.23" stroke="#333" stroke-width="0.45"/>
<line x1="258.90" y1="417.14" x2="261.60" y2="417.14" stroke="#333" stroke-width="0.45"/>
<line x1="258.90" y1="409.05" x2="264.10" y2="409.05" stroke="#333" stroke-width="0.6"/>
<line x1="258.90" y1="400.97" x2="261.60" y2="400.97" stroke="#333" stroke-width="0.45"/>
<line x1="258.90" y1="392.88" x2="261.60" y2="392.88" stroke="#333" stroke-width="0.45"/>
<line x1="258.90" y1="384.80" x2="261.60" y2="384.80" stroke="#333" stroke-width="0.45"/>
<line x1="258.90" y1="376.71" x2="264.10" y2="376.71" stroke="#333" stroke-width="0.6"/>
<line x1="258.90" y1="368.62" x2="261.60" y2="368.62" stroke="#333" stroke-width="0.45"/>
<line x1="258.90" y1="360.54" x2="261.60" y2="360.54" stroke="#333" stroke-width="0.45"/>
<line x1="258.90" y1="352.45" x2="261.60" y2="352.45" stroke="#333" stroke-width="0.45"/>
<line x1="258.90" y1="344.36" x2="264.10" y2="344.36" stroke="#333" stroke-width="0.6"/>
<line x1="258.90" y1="336.28" x2="261.60" y2="336.28" stroke="#333" stroke-width="0.45"/>
<line x1="258.90" y1="328.19" x2="261.60" y2="328.19" stroke="#333" stroke-width="0.45"/>
<line x1="258.90" y1="320.10" x2="261.60" y2="320.10" stroke="#333" stroke-width="0.45"/>
<line x1="258.90" y1="312.02" x2="264.10" y2="312.02" stroke="#333" stroke-width="0.6"/>
<line x1="258.90" y1="303.93" x2="261.60" y2="303.93" stroke="#333" stroke-width="0.45"/>
<line x1="258.90" y1="295.85" x2="261.60" y2="295.85" stroke="#333" stroke-width="0.45"/>
<line x1="258.90" y1="287.76" x2="261.60" y2="287.76" stroke="#333" stroke-width="0.45"/>
<line x1="258.90" y1="279.67" x2="264.10" y2="279.67" stroke="#333" stroke-width="0.6"/>
<line x1="258.90" y1="271.59" x2="261.60" y2="271.59" stroke="#333" stroke-width="0.45"/>
<line x1="258.90" y1="441.40" x2="258.90" y2="436.20" stroke="#333" stroke-width="0.6"/>
<line x1="267.37" y1="441.40" x2="267.37" y2="438.70" stroke="#333" stroke-width="0.45"/>
<line x1="275.84" y1="441.40" x2="275.84" y2="438.70" stroke="#333" stroke-width="0.45"/>
<line x1="284.31" y1="441.40" x2="284.31" y2="438.70" stroke="#333" stroke-width="0.45"/>
<line x1="292.78" y1="441.40" x2="292.78" y2="438.70" stroke="#333" stroke-width="0.45"/>
<line x1="301.25" y1="441.40" x2="301.25" y2="436.20" stroke="#333" stroke-width="0.6"/>
<line x1="309.72" y1="441.40" x2="309.72" y2="438.70" stroke="#333" stroke-width="0.45"/>
<line x1="318.19" y1="441.40" x2="318.19" y2="438.70" stroke="#333" stroke-width="0.45"/>
<line x1="326.66" y1="441.40" x2="326.66" y2="438.70" stroke="#333" stroke-width="0.45"/>
<line x1="335.13" y1="441.40" x2="335.13" y2="438.70" stroke="#333" stroke-width="0.45"/>
<line x1="343.60" y1="441.40" x2="343.60" y2="436.20" stroke="#333" stroke-width="0.6"/>
<text transform="translate(251.30,445.33) scale(1,1.12)" text-anchor="end" font-size="9.8" font-family="Liberation Sans, sans-serif" fill="#000">0</text>
<text transform="translate(251.30,412.98) scale(1,1.12)" text-anchor="end" font-size="9.8" font-family="Liberation Sans, sans-serif" fill="#000">2</text>
<text transform="translate(251.30,380.64) scale(1,1.12)" text-anchor="end" font-size="9.8" font-family="Liberation Sans, sans-serif" fill="#000">4</text>
<text transform="translate(251.30,348.29) scale(1,1.12)" text-anchor="end" font-size="9.8" font-family="Liberation Sans, sans-serif" fill="#000">6</text>
<text transform="translate(251.30,315.95) scale(1,1.12)" text-anchor="end" font-size="9.8" font-family="Liberation Sans, sans-serif" fill="#000">8</text>
<text transform="translate(251.30,283.60) scale(1,1.12)" text-anchor="end" font-size="9.8" font-family="Liberation Sans, sans-serif" fill="#000">10</text>
<text transform="translate(258.90,452.90) scale(1,1.12)" text-anchor="middle" font-size="9.8" font-family="Liberation Sans, sans-serif" fill="#000">0</text>
<text transform="translate(301.25,452.90) scale(1,1.12)" text-anchor="middle" font-size="9.8" font-family="Liberation Sans, sans-serif" fill="#000">0.5</text>
<text transform="translate(343.60,452.90) scale(1,1.12)" text-anchor="middle" font-size="9.8" font-family="Liberation Sans, sans-serif" fill="#000">1</text>
<text transform="translate(240.60,310.00) rotate(-90) scale(1,1)" text-anchor="start" font-size="11.5" font-family="Liberation Sans, sans-serif" fill="#000">R</text>
<text transform="translate(244.50,301.30) rotate(-90) scale(1,1)" text-anchor="start" font-size="7.7" font-family="Liberation Sans, sans-serif" fill="#000">long</text>
<text transform="translate(240.60,282.80) rotate(-90) scale(1,1)" text-anchor="start" font-size="10.8" font-family="Liberation Sans, sans-serif" fill="#000">(fm)</text>
<text transform="translate(289.60,470.30) scale(1,1.04)" text-anchor="start" font-size="13.3" font-family="Liberation Sans, sans-serif" fill="#000">m</text>
<text transform="translate(300.40,473.90) scale(1,1.04)" text-anchor="start" font-size="9.3" font-family="Liberation Sans, sans-serif" fill="#000">t</text>
<text transform="translate(343.00,470.30) scale(1,1.04)" text-anchor="end" font-size="13.3" font-family="Liberation Sans, sans-serif" fill="#000">(GeV)</text>
<line x1="54.50" y1="339.60" x2="54.50" y2="357.60" stroke="#8c8c8c" stroke-width="0.85"/>
<line x1="61.70" y1="347.30" x2="61.70" y2="362.70" stroke="#8c8c8c" stroke-width="0.85"/>
<line x1="70.30" y1="350.40" x2="70.30" y2="367.80" stroke="#8c8c8c" stroke-width="0.85"/>
<line x1="66.50" y1="359.10" x2="66.50" y2="371.90" stroke="#8c8c8c" stroke-width="0.85"/>
<line x1="77.60" y1="367.00" x2="77.60" y2="386.60" stroke="#8c8c8c" stroke-width="0.85"/>
<line x1="90.70" y1="385.40" x2="90.70" y2="402.80" stroke="#8c8c8c" stroke-width="0.85"/>
<path d="M52.20 347.37L56.80 347.37L54.50 342.77Z" fill="#ff0000"/>
<path d="M52.20 350.53L56.80 350.53L54.50 355.13Z" fill="#ff0000"/>
<path d="M59.40 350.23L64.00 350.23L61.70 354.83Z" fill="#ff0000"/>
<path d="M59.40 360.37L64.00 360.37L61.70 355.77Z" fill="#ff0000"/>
<path d="M68.00 353.43L72.60 353.43L70.30 358.03Z" fill="#ff0000"/>
<path d="M68.00 363.97L72.60 363.97L70.30 359.37Z" fill="#ff0000"/>
<rect x="64.43" y="362.13" width="4.14" height="4.14" fill="#0000ff"/>
<circle cx="66.50" cy="365.60" r="2.07" fill="#0000ff"/>
<circle cx="77.60" cy="375.00" r="2.07" fill="#0000ff"/>
<rect x="75.53" y="378.73" width="4.14" height="4.14" fill="#0000ff"/>
<circle cx="90.70" cy="389.40" r="2.07" fill="#0000ff"/>
<rect x="88.63" y="394.53" width="4.14" height="4.14" fill="#0000ff"/>
<path d="M48.70 326.30C49.10 327.77 50.17 332.18 51.10 335.10C52.03 338.02 53.25 341.17 54.30 343.80C55.35 346.43 56.35 348.73 57.40 350.90C58.45 353.07 59.53 355.03 60.60 356.80C61.67 358.57 62.62 359.83 63.80 361.50C64.98 363.17 66.38 365.27 67.70 366.80C69.02 368.33 70.05 369.20 71.70 370.70C73.35 372.20 75.48 374.13 77.60 375.80C79.72 377.47 82.22 379.25 84.40 380.70C86.58 382.15 88.38 383.25 90.70 384.50C93.02 385.75 95.88 387.15 98.30 388.20C100.72 389.25 102.88 389.97 105.20 390.80C107.52 391.63 109.67 392.40 112.20 393.20C114.73 394.00 119.03 395.20 120.40 395.60" fill="none" stroke="#000" stroke-width="1.3"/>
<line x1="52.80" y1="266.90" x2="52.80" y2="275.70" stroke="#8c8c8c" stroke-width="0.85"/>
<line x1="61.80" y1="266.90" x2="61.80" y2="275.70" stroke="#8c8c8c" stroke-width="0.85"/>
<path d="M50.50 269.23L55.10 269.23L52.80 273.83Z" fill="#ff0000"/>
<path d="M59.50 273.07L64.10 273.07L61.80 268.47Z" fill="#ff0000"/>
<line x1="52.80" y1="281.70" x2="52.80" y2="290.50" stroke="#8c8c8c" stroke-width="0.85"/>
<line x1="61.80" y1="281.70" x2="61.80" y2="290.50" stroke="#8c8c8c" stroke-width="0.85"/>
<circle cx="52.80" cy="286.10" r="2.07" fill="#0000ff"/>
<rect x="59.73" y="284.03" width="4.14" height="4.14" fill="#0000ff"/>
<line x1="51.7" y1="299.7" x2="63.2" y2="299.7" stroke="#111" stroke-width="1.3"/>
<text transform="translate(70.40,276.10) scale(1,1.04)" text-anchor="start" font-size="9.65" font-family="Liberation Sans, sans-serif" fill="#ff0000">STAR</text>
<text transform="translate(70.40,289.90) scale(1,1.04)" text-anchor="start" font-size="9.65" font-family="Liberation Sans, sans-serif" fill="#0000ff">PHENIX</text>
<text transform="translate(70.40,303.30) scale(1,1.04)" text-anchor="start" font-size="9.65" font-family="Liberation Sans, sans-serif" fill="#000">BudaLund</text>
<line x1="166.20" y1="337.80" x2="166.20" y2="353.00" stroke="#8c8c8c" stroke-width="0.85"/>
<line x1="173.40" y1="349.40" x2="173.40" y2="363.60" stroke="#8c8c8c" stroke-width="0.85"/>
<line x1="181.60" y1="359.50" x2="181.60" y2="378.80" stroke="#8c8c8c" stroke-width="0.85"/>
<line x1="178.20" y1="356.50" x2="178.20" y2="375.20" stroke="#8c8c8c" stroke-width="0.85"/>
<line x1="189.00" y1="377.00" x2="189.00" y2="387.70" stroke="#8c8c8c" stroke-width="0.85"/>
<line x1="202.40" y1="390.30" x2="202.40" y2="407.20" stroke="#8c8c8c" stroke-width="0.85"/>
<path d="M163.90 347.37L168.50 347.37L166.20 342.77Z" fill="#ff0000"/>
<path d="M163.90 343.43L168.50 343.43L166.20 348.03Z" fill="#ff0000"/>
<path d="M171.10 351.73L175.70 351.73L173.40 356.33Z" fill="#ff0000"/>
<path d="M171.10 360.87L175.70 360.87L173.40 356.27Z" fill="#ff0000"/>
<path d="M179.30 362.83L183.90 362.83L181.60 367.43Z" fill="#ff0000"/>
<path d="M179.30 375.07L183.90 375.07L181.60 370.47Z" fill="#ff0000"/>
<rect x="176.13" y="361.93" width="4.14" height="4.14" fill="#0000ff"/>
<circle cx="178.20" cy="365.20" r="2.07" fill="#0000ff"/>
<rect x="186.93" y="378.63" width="4.14" height="4.14" fill="#0000ff"/>
<circle cx="202.40" cy="396.40" r="2.07" fill="#0000ff"/>
<rect x="200.33" y="397.63" width="4.14" height="4.14" fill="#0000ff"/>
<path d="M160.00 325.90C160.45 327.43 161.67 331.93 162.70 335.10C163.73 338.27 165.02 342.02 166.20 344.90C167.38 347.78 168.60 350.17 169.80 352.40C171.00 354.63 172.00 356.22 173.40 358.30C174.80 360.38 176.43 362.68 178.20 364.90C179.97 367.12 182.20 369.73 184.00 371.60C185.80 373.47 186.92 374.47 189.00 376.10C191.08 377.73 194.27 379.97 196.50 381.40C198.73 382.83 199.82 383.45 202.40 384.70C204.98 385.95 209.53 387.85 212.00 388.90C214.47 389.95 215.20 390.25 217.20 391.00C219.20 391.75 221.55 392.63 224.00 393.40C226.45 394.17 230.58 395.23 231.90 395.60" fill="none" stroke="#000" stroke-width="1.3"/>
<text transform="translate(156.20,276.90) scale(1,1.12)" text-anchor="start" font-size="8.6" font-family="Liberation Sans, sans-serif" fill="#ff0000">12% most central</text>
<text transform="translate(156.20,290.10) scale(1,1.12)" text-anchor="start" font-size="8.6" font-family="Liberation Sans, sans-serif" fill="#0000ff">10% most central</text>
<line x1="277.70" y1="318.00" x2="277.70" y2="337.00" stroke="#8c8c8c" stroke-width="0.85"/>
<line x1="284.80" y1="337.00" x2="284.80" y2="355.00" stroke="#8c8c8c" stroke-width="0.85"/>
<line x1="293.10" y1="343.00" x2="293.10" y2="362.00" stroke="#8c8c8c" stroke-width="0.85"/>
<line x1="289.50" y1="337.00" x2="289.50" y2="357.00" stroke="#8c8c8c" stroke-width="0.85"/>
<line x1="300.70" y1="356.00" x2="300.70" y2="372.00" stroke="#8c8c8c" stroke-width="0.85"/>
<line x1="313.70" y1="374.00" x2="313.70" y2="400.00" stroke="#8c8c8c" stroke-width="0.85"/>
<path d="M275.40 324.23L280.00 324.23L277.70 328.83Z" fill="#ff0000"/>
<path d="M275.40 331.87L280.00 331.87L277.70 327.27Z" fill="#ff0000"/>
<path d="M282.50 342.03L287.10 342.03L284.80 346.63Z" fill="#ff0000"/>
<path d="M282.50 350.87L287.10 350.87L284.80 346.27Z" fill="#ff0000"/>
<path d="M290.80 353.47L295.40 353.47L293.10 348.87Z" fill="#ff0000"/>
<path d="M290.80 351.73L295.40 351.73L293.10 356.33Z" fill="#ff0000"/>
<rect x="287.43" y="342.03" width="4.14" height="4.14" fill="#0000ff"/>
<circle cx="289.50" cy="349.50" r="2.07" fill="#0000ff"/>
<rect x="298.63" y="362.13" width="4.14" height="4.14" fill="#0000ff"/>
<circle cx="313.70" cy="380.40" r="2.07" fill="#0000ff"/>
<rect x="311.63" y="391.83" width="4.14" height="4.14" fill="#0000ff"/>
<path d="M271.60 288.30C271.98 291.27 272.88 299.97 273.90 306.10C274.92 312.23 276.52 319.95 277.70 325.10C278.88 330.25 279.82 333.45 281.00 337.00C282.18 340.55 283.38 343.32 284.80 346.40C286.22 349.48 287.77 352.72 289.50 355.50C291.23 358.28 293.33 360.73 295.20 363.10C297.07 365.47 298.72 367.65 300.70 369.70C302.68 371.75 304.93 373.58 307.10 375.40C309.27 377.22 310.93 378.82 313.70 380.60C316.47 382.38 320.65 384.63 323.70 386.10C326.75 387.57 328.72 388.25 332.00 389.40C335.28 390.55 341.50 392.40 343.40 393.00" fill="none" stroke="#000" stroke-width="1.3"/>
<line x1="328.30" y1="268.10" x2="328.30" y2="277.70" stroke="#8c8c8c" stroke-width="0.85"/>
<line x1="336.60" y1="268.10" x2="336.60" y2="277.70" stroke="#8c8c8c" stroke-width="0.85"/>
<line x1="328.30" y1="282.10" x2="328.30" y2="291.70" stroke="#8c8c8c" stroke-width="0.85"/>
<line x1="336.60" y1="282.10" x2="336.60" y2="291.70" stroke="#8c8c8c" stroke-width="0.85"/>
<path d="M326.00 270.43L330.60 270.43L328.30 275.03Z" fill="#ff0000"/>
<path d="M334.53 275.16L338.67 275.16L336.60 271.02Z" fill="#0000ff"/>
<path d="M326.00 289.57L330.60 289.57L328.30 284.97Z" fill="#ff0000"/>
<rect x="334.51" y="285.12" width="4.37" height="4.37" fill="#0000ff"/>
<text transform="translate(309.00,276.40) scale(1,1.0)" text-anchor="start" font-size="9.2" font-family="Liberation Sans, sans-serif" fill="#000">π</text>
<text transform="translate(314.30,272.20) scale(1,1.0)" text-anchor="start" font-size="9" font-family="Liberation Sans, sans-serif" fill="#000">-</text>
<text transform="translate(309.00,290.50) scale(1,1.0)" text-anchor="start" font-size="9.2" font-family="Liberation Sans, sans-serif" fill="#000">π</text>
<text transform="translate(314.30,286.80) scale(1,1.0)" text-anchor="start" font-size="6.5" font-family="Liberation Sans, sans-serif" fill="#000">+</text>
</g>
</svg>
</body></html>
